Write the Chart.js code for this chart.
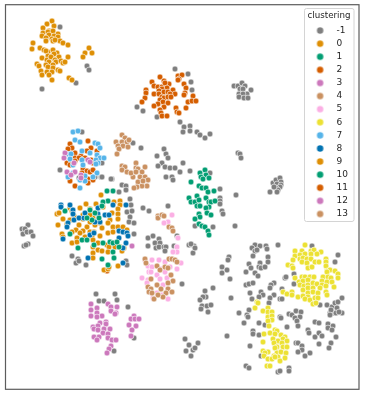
<!DOCTYPE html>
<html><head><meta charset="utf-8">
<style>html,body{margin:0;padding:0;background:#fff}canvas{display:block}</style>
<script src="https://cdn.jsdelivr.net/npm/chart.js@4"></script>
</head><body><canvas id="c" width="366" height="396"></canvas>
<script>
const clusterNames=["-1","0","1","2","3","4","5","6","7","8","9","10","11","12","13"];
const clusterColors=["#7f7f7f","#de8f05","#029e73","#d55e00","#cc78bc","#ca9161","#fbafe4","#ece133","#56b4e9","#0173b2","#de8f05","#029e73","#d55e00","#cc78bc","#ca9161"];
const drawOrder=[5,0,0,0,0,0,1,0,0,0,3,0,3,0,0];
const noise=[[60,27],[87,66],[89,70],[76,83],[42,89],[175,69],[188,74],[191,82],[192,90],[137,107],[143,111],[157,117],[180,122],[190,126],[184,127],[190,131],[183,132],[197,132],[200,135],[205,138],[210,134],[82,132],[133,143],[141,148],[164,149],[157,156],[166,154],[168,158],[162,163],[158,166],[165,167],[170,168],[175,168],[180,172],[166,177],[172,177],[173,180],[238,153],[240,154],[241,158],[183,163],[190,171],[210,173],[220,189],[236,195],[220,198],[220,201],[220,204],[222,211],[223,214],[195,226],[213,227],[235,226],
[270,192],[273,183],[276,180],[280,178],[281,182],[277,184],[281,185],[280,187],[276,188],[278,190],[277,192],[274,187],
[234,86],[238,86],[242,83],[245,86],[240,89],[243,89],[251,90],[247,94],[239,94],[243,94],[239,97],[244,98],[248,98],
[28,225],[22,229],[25,229],[23,234],[27,232],[31,232],[33,236],[24,246],[28,244],[26,245],
[60,170],[102,163],[101,177],[112,179],[122,185],[126,186],[126,190],[119,192],[130,199],[131,205],[127,212],[132,211],[130,217],[129,222],[134,223],[134,234],[143,208],[149,211],[168,206],
[177,236],[174,246],[189,245],[193,253],[194,246],[182,284],[148,238],[153,236],[159,239],[148,246],[155,243],[160,243],[156,248],[159,247],[164,247],[166,247],[165,251],
[72,256],[78,259],[76,263],[79,261],[86,265],[126,261],[127,265],[96,294],[115,294],[99,301],[104,301],[117,300],[128,307],[134,338],[114,351],[79,178],[95,177],[102,177],[111,179],
[191,244],[195,248],[229,257],[228,260],[222,267],[227,270],[222,273],[230,279],[255,245],[252,248],[260,246],[266,246],[267,249],[255,251],[257,250],[278,245],[253,256],[268,257],[268,262],[260,263],[259,267],[249,264],[251,268],[246,272],[255,273],[258,276],[261,268],[265,267],[274,283],[271,285],[270,288],[246,285],[249,284],[253,283],[282,289],[285,278],[286,277],[294,274],[294,284],[250,293],[252,299],[261,292],[263,295],[259,297],[274,295],[270,298],[269,303],[280,299],[282,299],
[239,313],[249,310],[247,315],[248,317],[244,323],[259,323],[265,325],[280,317],[281,318],[287,327],[253,331],[253,334],[259,335],[250,346],[261,356],[289,314],[292,315],[296,311],[301,312],[300,317],[295,318],[297,321],[298,326],[315,322],[319,323],[308,330],[309,333],[315,337],[319,333],[322,336],[319,344],[328,324],[333,326],[328,328],[332,330],[336,337],[331,343],[329,348],
[320,305],[327,305],[332,307],[335,303],[338,302],[342,298],[337,308],[330,313],[333,313],[336,313],[342,313],[331,310],[330,315],[339,312],[335,262],[338,255],[312,246],[227,336],[231,298],[213,288],[205,291],[206,297],[203,297],[200,300],[202,306],[207,306],[211,305],[201,309],[208,312],[185,339],[189,345],[193,350],[198,343],[186,351],[195,348],[191,356],[246,366],[249,368],[278,372],[280,371],[289,368],[289,371],[296,343],[298,343],[302,346],[302,350],[298,352],[310,353],[305,356]];
const cluster0=[[52,21],[47,24],[54,26],[43,28],[49,31],[43,33],[48,32],[53,31],[58,34],[42,36],[49,35],[54,36],[46,38],[52,39],[58,37],[46,41],[53,41],[60,41],[55,40],[63,43],[68,45],[33,43],[32,49],[40,48],[44,50],[48,52],[46,51],[53,50],[57,53],[48,56],[54,54],[42,58],[47,60],[51,57],[58,58],[59,57],[55,60],[49,62],[46,65],[56,62],[61,61],[53,65],[37,64],[39,66],[48,67],[53,68],[58,70],[60,71],[41,71],[47,72],[42,75],[52,72],[49,75],[52,80],[63,63],[65,62],[68,57],[89,48],[85,53],[92,53],[83,57],[69,78],[72,80]];
const cluster1=[[65,211],[70,234],[108,201],[103,202],[102,206],[113,191],[107,191],[90,210],[95,213],[92,220],[87,218],[99,218],[82,240],[87,240],[78,248],[94,245],[103,243],[110,242],[113,243],[113,252],[114,258],[102,259],[108,265],[119,247],[117,242]];
const cluster2=[[160,77],[152,82],[164,81],[154,86],[158,87],[162,87],[169,84],[165,83],[167,88],[162,89],[159,91],[154,94],[159,94],[164,92],[168,92],[173,90],[175,94],[170,94],[146,90],[146,93],[145,98],[142,102],[162,97],[164,98],[168,97],[171,97],[160,100],[163,102],[168,103],[158,104],[154,106],[164,107],[160,110],[161,113],[162,116],[167,116],[176,108],[177,112],[179,113],[186,108],[178,76],[182,75],[179,79],[184,84],[186,88],[185,93],[184,95],[193,96],[188,102],[192,101],[196,101],[178,80]];
const cluster3=[[65,153],[64,158],[88,160],[74,163],[67,172],[75,172],[81,175],[71,175],[81,178],[90,162],[132,246]];
const cluster4=[[122,135],[125,138],[116,142],[122,142],[127,142],[129,140],[118,146],[123,146],[128,147],[119,149],[117,154],[122,166],[125,167],[136,163],[145,167],[122,170],[127,172],[136,168],[138,169],[142,172],[133,177],[140,177],[145,177],[148,180],[138,182],[147,186],[142,186],[137,187],[134,188],[131,173],[136,172],[143,181]];
const cluster5=[[172,215],[168,222],[164,223],[178,238],[177,247],[177,252],[173,252],[152,260],[145,260],[159,260],[165,262],[148,266],[152,267],[181,263],[170,267],[177,269],[149,272],[161,269],[151,272],[157,275],[142,278],[148,280],[160,279],[167,278],[165,272],[147,283],[163,285],[157,293],[162,295],[153,298],[168,299]];
const cluster6=[[305,245],[295,251],[302,251],[311,251],[314,250],[321,252],[295,256],[300,255],[305,254],[311,254],[317,254],[293,260],[300,259],[303,258],[307,259],[311,259],[315,262],[319,262],[302,262],[307,263],[326,259],[326,262],[288,265],[292,266],[293,268],[308,268],[312,267],[326,266],[327,271],[330,270],[335,271],[338,274],[338,278],[327,272],[295,278],[302,277],[305,277],[310,277],[314,277],[323,277],[328,277],[331,278],[299,282],[303,281],[308,280],[322,281],[327,282],[332,282],[300,285],[304,286],[308,285],[313,283],[317,284],[322,285],[326,286],[334,287],[303,290],[308,288],[313,288],[320,288],[283,292],[287,294],[292,292],[292,295],[298,297],[303,296],[308,293],[308,297],[313,292],[318,293],[326,292],[327,295],[305,299],[310,300],[315,298],[318,298],[313,304],[316,303],[257,302],[258,303],[255,308],[263,311],[268,308],[268,312],[272,312],[268,317],[272,316],[272,320],[268,321],[269,326],[264,334],[270,333],[275,330],[277,331],[275,334],[281,335],[285,337],[273,339],[263,342],[283,339],[287,341],[278,341],[274,343],[282,343],[277,347],[283,347],[287,347],[275,348],[268,352],[263,351],[265,353],[277,353],[281,352],[286,353],[274,356],[264,356],[278,357],[285,358],[268,359],[272,359],[280,361],[267,366],[270,366],[275,357]];
const cluster7=[[73,132],[78,131],[75,140],[80,142],[95,143],[98,144],[100,148],[82,151],[67,154],[71,154],[90,153],[97,155],[70,159],[100,158],[104,158],[82,160],[96,160],[98,163],[83,165],[73,165],[68,177],[85,176],[97,173],[93,177],[85,181],[80,188],[73,173],[80,180],[96,164]];
const cluster8=[[61,205],[61,207],[70,205],[73,210],[73,214],[68,223],[67,227],[74,220],[79,218],[84,218],[85,213],[98,214],[105,215],[109,215],[100,222],[113,205],[126,205],[98,208],[90,235],[94,233],[119,231],[123,232],[127,233],[63,239],[119,238],[126,243],[123,248],[88,258],[123,263],[128,236],[95,222]];
const cluster9=[[101,195],[57,214],[59,213],[63,219],[58,225],[70,208],[72,211],[80,208],[86,204],[96,204],[90,209],[83,215],[74,216],[70,220],[67,224],[103,207],[114,202],[120,201],[120,205],[112,213],[118,209],[118,214],[93,218],[90,215],[110,220],[118,219],[83,219],[79,225],[90,222],[87,227],[95,225],[100,223],[108,223],[113,227],[118,227],[123,227],[127,230],[76,230],[72,232],[62,234],[63,237],[83,231],[80,233],[85,237],[90,232],[94,232],[102,228],[108,233],[113,232],[72,243],[77,238],[92,237],[93,240],[100,236],[98,243],[77,242],[107,245],[109,247],[98,250],[93,247],[93,253],[102,251],[108,252],[115,247],[120,247],[124,248],[122,251],[93,258],[118,266],[104,270],[108,269],[109,267]];
const cluster10=[[205,170],[200,173],[206,175],[201,177],[203,179],[209,178],[191,182],[199,186],[202,188],[206,188],[208,192],[214,191],[197,196],[206,198],[189,198],[191,202],[195,202],[199,200],[197,206],[200,206],[209,202],[211,202],[215,201],[209,207],[206,208],[207,213],[199,214],[211,215],[200,217],[195,219],[199,224],[202,226],[205,227],[208,231],[209,235]];
const cluster11=[[88,141],[70,144],[72,148],[68,149],[91,148],[87,151],[75,153],[81,156],[75,158],[79,158],[85,158],[97,151],[91,160],[75,161],[93,163],[67,163],[83,169],[87,171],[90,172],[93,170],[70,181],[88,179],[93,180],[75,186],[88,183],[70,165],[82,173],[106,270],[107,271]];
const cluster12=[[91,304],[91,310],[97,308],[91,316],[97,313],[102,316],[97,317],[108,304],[111,307],[117,307],[111,311],[116,313],[115,314],[100,323],[106,322],[106,324],[93,327],[98,326],[94,329],[98,330],[104,329],[110,329],[103,333],[108,334],[94,337],[99,337],[97,340],[108,338],[112,340],[116,340],[111,346],[109,349],[107,353],[134,316],[131,319],[135,319],[139,319],[129,325],[136,326],[132,330],[131,336]];
const cluster13=[[158,216],[158,218],[162,215],[164,216],[169,227],[172,228],[173,231],[145,259],[146,263],[169,259],[172,259],[175,260],[177,262],[157,266],[160,270],[165,267],[168,268],[171,275],[173,281],[168,283],[151,279],[157,285],[161,289],[148,287],[151,289],[149,292],[152,293],[168,289],[166,293],[172,292],[163,297],[154,299],[158,295]];
const clusterPoints=[noise,cluster0,cluster1,cluster2,cluster3,cluster4,cluster5,cluster6,cluster7,cluster8,cluster9,cluster10,cluster11,cluster12,cluster13];

function markerCanvas(color){
  const m=document.createElement('canvas');m.width=9;m.height=9;
  const g=m.getContext('2d');g.beginPath();g.arc(4.5,4.5,3.2,0,Math.PI*2);
  g.fillStyle=color;g.fill();return m;
}
const frameBox={left:304.5,top:8.5,width:49.5,height:213};
const framePlugin={
  id:'frame',
  afterLayout(chart){
    const l=chart.legend;
    l.left=304;l.right=l.left+50;l.width=50;
    l.top=7.5;l.bottom=l.top+380;l.height=380;
  },
  beforeDraw(chart){
    const c=chart.ctx;c.save();c.beginPath();
    c.roundRect(frameBox.left,frameBox.top,frameBox.width,frameBox.height,2);
    c.fillStyle='#fff';c.fill();c.strokeStyle='#d4d4d4';c.lineWidth=1;c.stroke();c.restore();
  },
  afterDraw(chart){
    const a=chart.chartArea,c=chart.ctx;c.save();c.strokeStyle='#5c5c5c';c.lineWidth=1.2;
    c.strokeRect(a.left,a.top,a.right-a.left,a.bottom-a.top);c.restore();
  }
};
new Chart(document.getElementById('c'),{
  type:'scatter',
  data:{datasets:clusterNames.map((n,i)=>({
    label:n,
    order:drawOrder[i],
    data:clusterPoints[i].map(p=>({x:p[0],y:p[1]})),
    backgroundColor:clusterColors[i],
    borderColor:'#ffffff',borderWidth:0.6,pointRadius:2.9,pointHoverRadius:2.9
  }))},
  options:{
    responsive:false,animation:false,devicePixelRatio:1,
    layout:{padding:{left:5.5,top:4.7,right:7,bottom:6.7}},
    scales:{
      x:{type:'linear',display:false,min:5.5,max:359},
      y:{type:'linear',display:false,min:4.7,max:389.3,reverse:true}
    },
    plugins:{
      tooltip:{enabled:false},
      legend:{
        position:'chartArea',align:'start',
        title:{display:true,text:'clustering',color:'#262626',font:{family:'DejaVu Sans',size:8.7},padding:{top:4,bottom:0}},
        labels:{
          usePointStyle:true,boxHeight:6,pointStyleWidth:24,padding:4.1,color:'#262626',
          font:{family:'DejaVu Sans',size:9},
          generateLabels(chart){
            return chart.data.datasets.map((d,i)=>({text:d.label,datasetIndex:i,pointStyle:markerCanvas(clusterColors[i]),fontColor:'#262626',lineWidth:0,hidden:false}));
          }
        }
      }
    }
  },
  plugins:[framePlugin]
});
</script></body></html>
